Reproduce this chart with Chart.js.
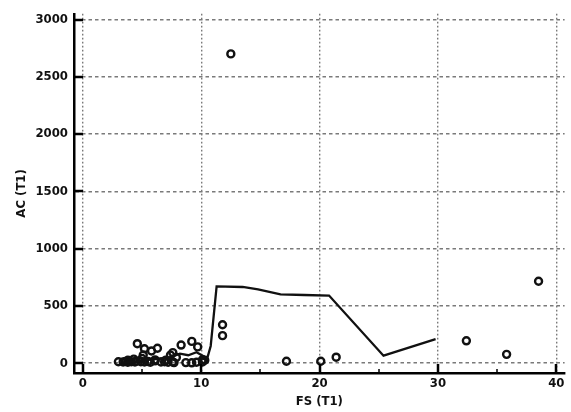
<!DOCTYPE html>
<html>
<head>
<meta charset="utf-8">
<script src="https://cdn.jsdelivr.net/npm/chart.js@4.4.0/dist/chart.umd.min.js"></script>
<style>
  html, body { margin: 0; padding: 0; background: #fff; }
  #wrap { width: 571px; height: 412px; }
</style>
</head>
<body>
<div id="wrap"><canvas id="chart"></canvas></div>
<script>
var fontFamily = "'Liberation Sans Narrow', 'DejaVu Sans Condensed', 'Liberation Sans', sans-serif"

// scatter points FS (T1) / AC (T1)
var pointsX = [3.0, 3.4, 3.6, 3.8, 4.1, 4.4, 4.5, 4.9, 5.2, 5.5, 5.7, 6.1, 6.6, 6.9, 7.2, 7.6, 7.7, 8.7, 9.2, 9.6, 10.1,
               3.8, 4.3, 5.0, 4.6, 5.2, 5.8, 5.1, 6.3, 6.1, 7.0, 7.4, 7.6, 7.9, 8.3, 9.2, 9.7, 10.1, 10.3, 11.8, 11.8,
               12.5, 17.2, 20.1, 21.4, 32.4, 35.8, 38.5]
var pointsY = [12, 10, 15, 8, 12, 10, 18, 12, 10, 14, 8, 20, 10, 12, 8, 10, 5, 5, 3, 8, 10,
               25, 35, 40, 170, 126, 106, 71, 130, 28, 26, 70, 92, 50, 158, 190, 142, 30, 25, 335, 240,
               2700, 17, 17, 52, 195, 77, 715]

// fitted curve
var curveX = [3.3, 4.5, 5.5, 6.5, 7.5, 8.2, 8.9, 9.6, 10.2, 10.5, 10.8, 11.3, 13.5, 14.8, 16.7, 18.7, 20.8, 25.4, 29.8]
var curveY = [5, 15, 28, 40, 55, 83, 69, 95, 60, 40, 150, 670, 665, 645, 600, 595, 590, 65, 210]

var xTicks = [0, 10, 20, 30, 40]
var xMinorTicks = [5, 15, 25, 35]
var yTicks = [0, 500, 1000, 1500, 2000, 2500, 3000]

var xTitle = "FS (T1)"
var yTitle = "AC (T1)"

function toPoints(xs, ys){
    let out = []
    for (let i = 0; i < xs.length; i++) out.push({x: xs[i], y: ys[i]})
    return out
}

// ticks drawn inward from the axis lines
var innerTicks = {
    id: "innerTicks",
    afterDatasetsDraw(chart){
        let ctx = chart.ctx
        let area = chart.chartArea
        let xs = chart.scales.x
        let ys = chart.scales.y
        ctx.save()
        ctx.strokeStyle = "#000"
        ctx.lineWidth = 2.5
        ctx.beginPath()
        for (let v of xTicks){
            let px = Math.round(xs.getPixelForValue(v))
            ctx.moveTo(px, area.bottom)
            ctx.lineTo(px, area.bottom - 9)
        }
        for (let v of yTicks){
            let py = Math.round(ys.getPixelForValue(v))
            ctx.moveTo(area.left, py)
            ctx.lineTo(area.left + 9, py)
        }
        ctx.stroke()
        ctx.lineWidth = 1.5
        ctx.beginPath()
        for (let v of xMinorTicks){
            let px = Math.round(xs.getPixelForValue(v))
            ctx.moveTo(px, area.bottom)
            ctx.lineTo(px, area.bottom - 4)
        }
        ctx.stroke()
        ctx.restore()
    }
}

window.onload = function () {
    let ctx = document.getElementById("chart").getContext("2d")
    new Chart(ctx, {
        type: "scatter",
        data: {
            datasets: [{
                type: "line",
                data: toPoints(curveX, curveY),
                borderColor: "#111",
                borderWidth: 2.3,
                pointRadius: 0,
                tension: 0,
                fill: false
            }, {
                data: toPoints(pointsX, pointsY),
                pointStyle: "circle",
                pointRadius: 3.5,
                borderWidth: 2.4,
                borderColor: "#111",
                backgroundColor: "rgba(255,255,255,0)"
            }]
        },
        options: {
            animation: false,
            responsive: true,
            maintainAspectRatio: false,
            layout: { padding: { top: 8, right: 6, bottom: 0, left: 0 } },
            plugins: { legend: { display: false }, tooltip: { enabled: false } },
            scales: {
                x: {
                    type: "linear",
                    min: -0.75,
                    max: 40.7,
                    afterBuildTicks: (scale) => { scale.ticks = xTicks.map(v => ({value: v})) },
                    afterFit: (scale) => { scale.height = 39 },
                    ticks: {
                        color: "#111",
                        padding: 3,
                        maxRotation: 0,
                        callback: (v) => String(v),
                        font: { family: fontFamily, size: 13, weight: "bold" }
                    },
                    grid: { color: "#7a7a7a", lineWidth: 1.4, drawTicks: false },
                    border: { display: true, color: "#000", width: 2.5, dash: [1.6, 2.4] },
                    title: {
                        display: true,
                        text: xTitle,
                        color: "#111",
                        padding: { top: 0, bottom: 3 },
                        font: { family: fontFamily, size: 13, weight: "bold" }
                    }
                },
                y: {
                    type: "linear",
                    min: -86,
                    max: 3050,
                    afterBuildTicks: (scale) => { scale.ticks = yTicks.map(v => ({value: v})) },
                    afterFit: (scale) => { scale.width = 74 },
                    ticks: {
                        color: "#111",
                        padding: 6,
                        callback: (v) => String(v),
                        font: { family: fontFamily, size: 13, weight: "bold" }
                    },
                    grid: { color: "#7a7a7a", lineWidth: 1.4, drawTicks: false },
                    border: { display: true, color: "#000", width: 2.5, dash: [3.5, 3] },
                    title: {
                        display: true,
                        text: yTitle,
                        color: "#111",
                        padding: { top: 14, bottom: 0 },
                        font: { family: fontFamily, size: 13, weight: "bold" }
                    }
                }
            }
        },
        plugins: [innerTicks]
    })
}
</script>
</body>
</html>
